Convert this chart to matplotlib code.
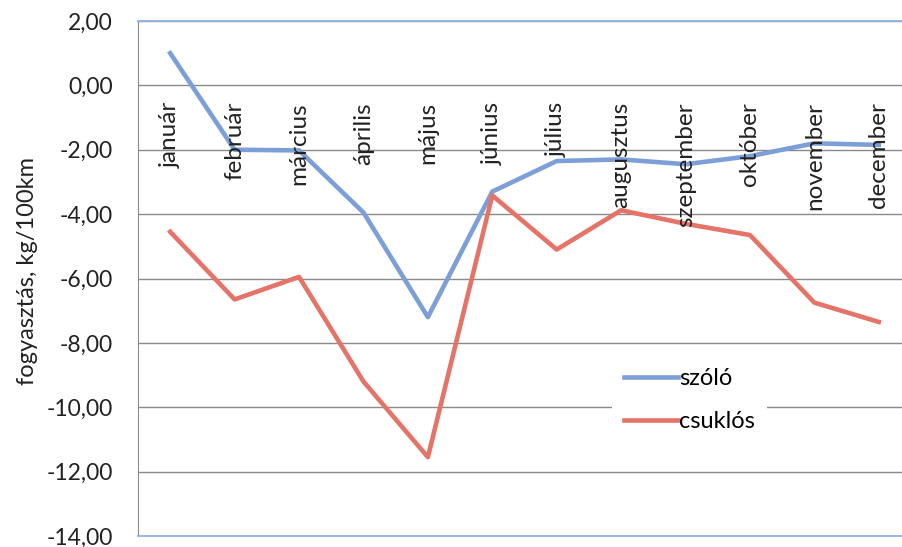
import matplotlib.pyplot as plt
from matplotlib.ticker import FuncFormatter

# Data
months = ["január", "február", "március", "április", "május", "június",
          "július", "augusztus", "szeptember", "október", "november", "december"]
szolo = [1.0, -2.0, -2.02, -3.95, -7.2, -3.3, -2.35, -2.3, -2.45, -2.2, -1.8, -1.85]
csuklos = [-4.55, -6.65, -5.95, -9.2, -11.55, -3.42, -5.1, -3.88, -4.3, -4.65, -6.75, -7.35]
yticks = list(range(-14, 3, 2))

plt.rcParams['font.family'] = ['Lato', 'DejaVu Sans']

fig = plt.figure(figsize=(9.03, 5.47), dpi=100)
ax = fig.add_axes([138 / 903, 1 - 536 / 547, 773 / 903, 515 / 547])

x = range(len(months))
ax.plot(x, szolo, color='#7C9FD8', lw=3.3, label='szóló', solid_joinstyle='round')
ax.plot(x, csuklos, color='#E57368', lw=3.3, label='csuklós', solid_joinstyle='round')

ax.set_xlim(-0.5, len(months) - 0.5)
ax.set_ylim(-14, 2)
ax.set_yticks(yticks)
ax.yaxis.set_major_formatter(FuncFormatter(lambda v, p: f"{v:.2f}".replace('.', ',')))
ax.tick_params(axis='y', length=0, pad=18, labelsize=16.5, labelcolor='#222222')
ax.set_xticks([])
ax.grid(axis='y', color='#8a8a8a', lw=1)
ax.set_axisbelow(True)

# month labels hang below the zero line
for i, m in enumerate(months):
    ax.text(i, -0.52, m, rotation=90, ha='center', va='top', fontsize=17.5, color='#222222')

for s in ['top', 'bottom']:
    ax.spines[s].set_color('#8EB4E3')
    ax.spines[s].set_linewidth(1.3)
ax.spines['left'].set_color('#8a8a8a')
ax.spines['right'].set_visible(False)

ax.set_ylabel('fogyasztás, kg/100km', fontsize=17, color='#222222')
ax.yaxis.set_label_coords((38 - 138) / 773, (536 - 271) / 515)

leg = ax.legend(loc='center left', bbox_to_anchor=((600 - 138) / 773, (536 - 400) / 515),
                frameon=True, fontsize=17, handlelength=2.3, handletextpad=0.05,
                labelspacing=0.95, borderpad=0.5)
leg.get_frame().set_edgecolor('none')
leg.get_frame().set_facecolor('white')
leg.get_frame().set_alpha(1)

fig.savefig('out.png', dpi=100)
